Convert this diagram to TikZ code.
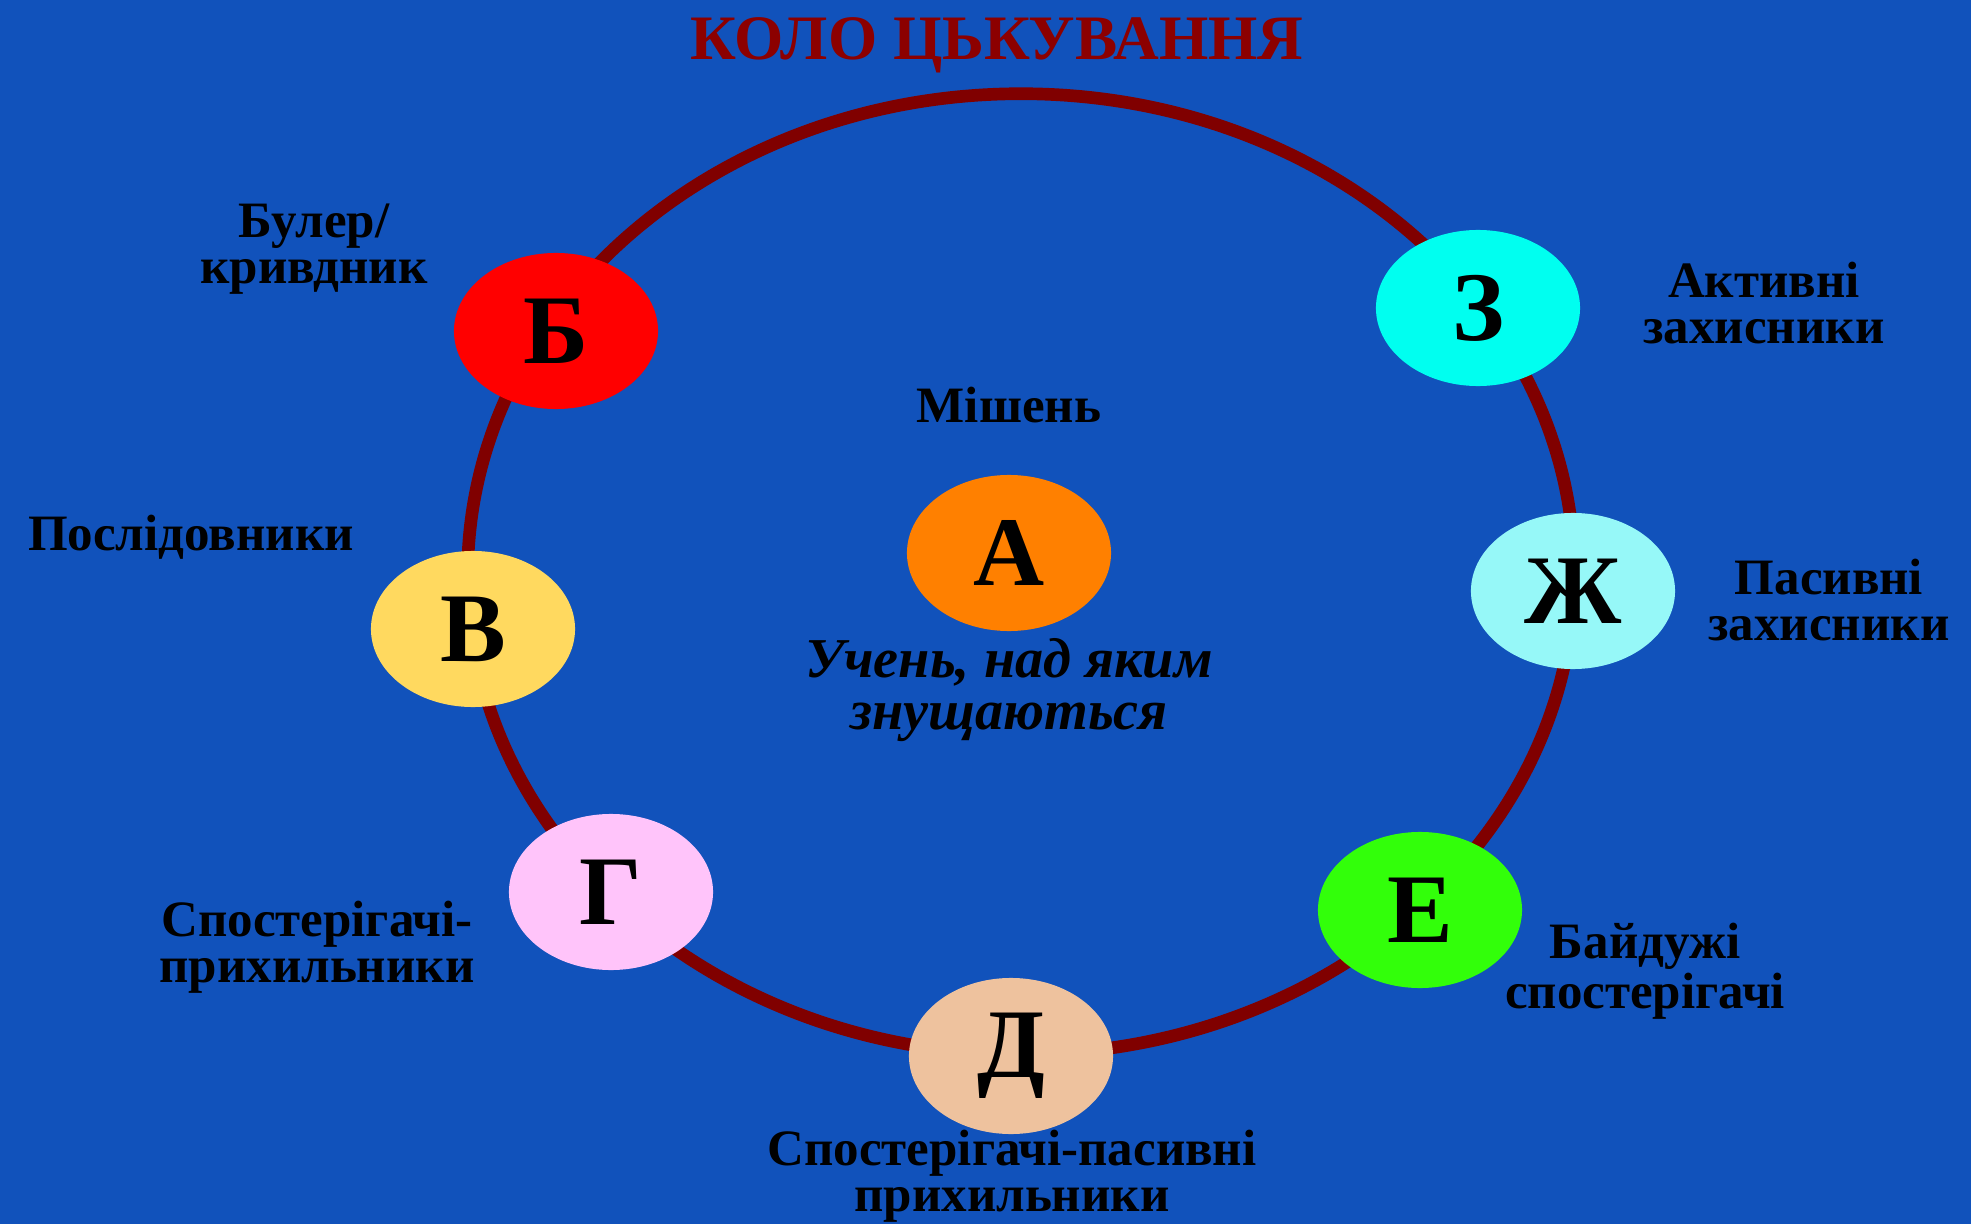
\documentclass[tikz,border=0pt]{standalone}
\usepackage{fontspec}
\setmainfont{Liberation Serif}
\usetikzlibrary{shapes.geometric}

\definecolor{bgblue}{RGB}{17,82,187}
\definecolor{ringred}{RGB}{128,0,0}
\definecolor{titlered}{RGB}{140,0,0}
\definecolor{colA}{RGB}{255,128,0}
\definecolor{colB}{RGB}{255,0,0}
\definecolor{colV}{RGB}{255,217,95}
\definecolor{colG}{RGB}{255,196,250}
\definecolor{colD}{RGB}{238,194,158}
\definecolor{colE}{RGB}{50,255,10}
\definecolor{colZh}{RGB}{150,248,248}
\definecolor{colZ}{RGB}{0,255,240}

\tikzset{
  role/.style={ellipse, inner sep=0pt, minimum width=2.04cm, minimum height=1.56cm,
    font=\fontsize{28}{30}\selectfont\bfseries},
  caption/.style={align=center, font=\fontsize{14.5}{13}\selectfont\bfseries},
}

\begin{document}
\begin{tikzpicture}[x=0.01cm, y=-0.01cm]
  % background and frame
  \fill[bgblue] (0,0) rectangle (1971,1224);
  \useasboundingbox (0,0) rectangle (1971,1224);
  \node[anchor=base, text=titlered, font=\fontsize{18}{20}\selectfont\bfseries] (title) at (997,59) {КОЛО ЦЬКУВАННЯ};

  % the ring
  \draw[ringred, line width=3.6pt] (1021,574) ellipse [x radius=5.53cm, y radius=4.80cm];

  % roles on the ring
  \node[role, fill=colB] (B) at (556,331) {Б};
  \node[role, fill=colV] (V) at (473,629) {В};
  \node[role, fill=colG] (G) at (611,892) {Г};
  \node[role, fill=colD] (D) at (1011,1056) {Д};
  \node[role, fill=colE] (E) at (1420,910) {Е};
  \node[role, fill=colZh] (Zh) at (1573,591) {Ж};
  \node[role, fill=colZ] (Z) at (1478,308) {З};
  \node[role, fill=colA] (A) at (1009,553) {А};

  % captions
  \node[caption] (bullylbl) at (314,249) {Булер/\\кривдник};
  \node[caption] (followlbl) at (191,537) {Послідовники};
  \node[caption] (fanlbl) at (317,947) {Спостерігачі-\\прихильники};
  \node[caption] (passfanlbl) at (1012,1176) {Спостерігачі-пасивні\\прихильники};
  \node[caption] (idlelbl) at (1645,971) {Байдужі\\спостерігачі};
  \node[caption] (passdeflbl) at (1829,600) {Пасивні\\захисники};
  \node[caption] (actdeflbl) at (1764,303) {Активні\\захисники};
  \node[caption] (targetlbl) at (1009,405) {Мішень};
  \node[align=center, font=\fontsize{16}{15}\selectfont\bfseries\itshape] (victimlbl) at (1009,690) {Учень, над яким\\знущаються};
\end{tikzpicture}
\end{document}
